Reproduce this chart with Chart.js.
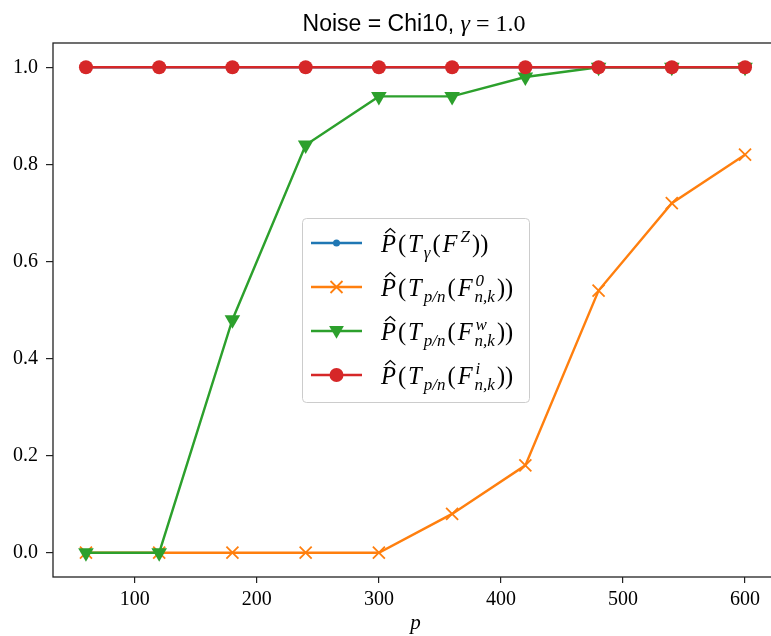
<!DOCTYPE html>
<html>
<head>
<meta charset="utf-8">
<script src="https://cdn.jsdelivr.net/npm/chart.js@4"></script>
<style>
  html, body { margin: 0; padding: 0; background: #fff; overflow: hidden; }
  #wrap { width: 790px; height: 636px; }
</style>
</head>
<body>
<div id="wrap"><canvas id="c" width="790" height="636"></canvas></div>
<script>
// data
const pValues = [60, 120, 180, 240, 300, 360, 420, 480, 540, 600]
const gammaZ = [1, 1, 1, 1, 1, 1, 1, 1, 1, 1]
const zeroK = [0, 0, 0, 0, 0, 0.08, 0.18, 0.54, 0.72, 0.82]
const wK = [0, 0, 0.48, 0.84, 0.94, 0.94, 0.98, 1, 1, 1]
const iK = [1, 1, 1, 1, 1, 1, 1, 1, 1, 1]
const xTicks = [100, 200, 300, 400, 500, 600]
const yTicks = [0, 0.2, 0.4, 0.6, 0.8, 1.0]

const blue = '#1f77b4', orange = '#ff7f0e', green = '#2ca02c', red = '#d62728'
const serif = '"Liberation Serif", "DejaVu Serif", serif'

const pts = (ys) => ys.map((y, i) => ({ x: pValues[i], y }))

// legend labels, as small math token lists
const legendItems = [
  { color: blue, style: 'circle', r: 3.5, parts: [{ t: 'P', it: 1, hat: 1 }, { t: '(' }, { t: 'T', it: 1 }, { sub: 'γ' }, { t: '(' }, { t: 'F', it: 1 }, { sup: 'Z' }, { t: '))' }] },
  { color: orange, style: 'cross', r: 6, parts: [{ t: 'P', it: 1, hat: 1 }, { t: '(' }, { t: 'T', it: 1 }, { sub: 'p/n' }, { t: '(' }, { t: 'F', it: 1 }, { sup: '0', sub: 'n,k' }, { t: '))' }] },
  { color: green, style: 'tri', r: 8.5, parts: [{ t: 'P', it: 1, hat: 1 }, { t: '(' }, { t: 'T', it: 1 }, { sub: 'p/n' }, { t: '(' }, { t: 'F', it: 1 }, { sup: 'w', sub: 'n,k' }, { t: '))' }] },
  { color: red, style: 'circle', r: 7, parts: [{ t: 'P', it: 1, hat: 1 }, { t: '(' }, { t: 'T', it: 1 }, { sub: 'p/n' }, { t: '(' }, { t: 'F', it: 1 }, { sup: 'i', sub: 'n,k' }, { t: '))' }] }
]

function font(size, it) {
  return (it ? 'italic ' : '') + size + 'px ' + serif
}

function drawMath(ctx, x, y, parts) {
  const big = 24.5, small = 17
  for (const p of parts) {
    if (p.t) {
      ctx.font = font(big, p.it)
      ctx.fillText(p.t, x, y)
      const w = ctx.measureText(p.t).width
      if (p.hat) {
        ctx.save()
        ctx.lineWidth = 1.3
        ctx.beginPath()
        const cx = x + w * 0.62
        ctx.moveTo(cx - 5, y - 18.5)
        ctx.lineTo(cx, y - 23)
        ctx.lineTo(cx + 5, y - 18.5)
        ctx.stroke()
        ctx.restore()
      }
      x += w + 2
    } else {
      ctx.font = font(small, true)
      let w = 0
      if (p.sup) {
        ctx.fillText(p.sup, x + 1, y - 10)
        w = Math.max(w, ctx.measureText(p.sup).width + 1)
      }
      if (p.sub) {
        ctx.fillText(p.sub, x, y + 6)
        w = Math.max(w, ctx.measureText(p.sub).width)
      }
      x += w + 2
    }
  }
}

function drawMarker(ctx, style, x, y, r, color) {
  ctx.save()
  ctx.fillStyle = color
  ctx.strokeStyle = color
  if (style === 'circle') {
    ctx.beginPath()
    ctx.arc(x, y, r, 0, Math.PI * 2)
    ctx.fill()
  } else if (style === 'cross') {
    ctx.lineWidth = 1.8
    ctx.beginPath()
    ctx.moveTo(x - r, y - r); ctx.lineTo(x + r, y + r)
    ctx.moveTo(x - r, y + r); ctx.lineTo(x + r, y - r)
    ctx.stroke()
  } else if (style === 'tri') {
    ctx.beginPath()
    ctx.moveTo(x - r * 0.87, y - r * 0.6)
    ctx.lineTo(x + r * 0.87, y - r * 0.6)
    ctx.lineTo(x, y + r * 0.9)
    ctx.closePath()
    ctx.fill()
  }
  ctx.restore()
}

const framePlugin = {
  id: 'frame',
  afterDatasetsDraw(chart) {
    const { ctx, chartArea: a } = chart
    ctx.save()
    ctx.strokeStyle = '#222'
    ctx.lineWidth = 1.3
    ctx.strokeRect(a.left, a.top, a.right - a.left, a.bottom - a.top)
    ctx.restore()
  },
  afterDraw(chart) {
    const ctx = chart.ctx
    // title
    ctx.save()
    ctx.fillStyle = '#000'
    ctx.textBaseline = 'alphabetic'
    const sans = '23px "Liberation Sans", Arial, sans-serif'
    const s1 = 'Noise = Chi10, '
    const s2 = 'γ'
    const s3 = ' = 1.0'
    ctx.font = sans
    const w1 = ctx.measureText(s1).width
    ctx.font = font(24, true)
    const w2 = ctx.measureText(s2).width
    ctx.font = font(24, false)
    const w3 = ctx.measureText(s3).width
    let x = 414 - (w1 + w2 + w3) / 2
    const ty = 31
    ctx.font = sans
    ctx.fillText(s1, x, ty); x += w1
    ctx.font = font(24, true)
    ctx.fillText(s2, x, ty); x += w2
    ctx.font = font(24, false)
    ctx.fillText(s3, x, ty)

    // legend box
    const bx = 302, by = 218, bw = 227, bh = 184
    ctx.beginPath()
    ctx.roundRect(bx + 0.5, by + 0.5, bw, bh, 4)
    ctx.fillStyle = 'rgba(255,255,255,0.8)'
    ctx.fill()
    ctx.strokeStyle = '#cccccc'
    ctx.lineWidth = 1
    ctx.stroke()

    legendItems.forEach((item, i) => {
      const cy = 243 + i * 44
      ctx.strokeStyle = item.color
      ctx.lineWidth = 2.4
      ctx.beginPath()
      ctx.moveTo(311, cy); ctx.lineTo(362, cy)
      ctx.stroke()
      drawMarker(ctx, item.style, 336.5, cy, item.r, item.color)
      ctx.fillStyle = '#000'
      ctx.strokeStyle = '#000'
      drawMath(ctx, 381, cy + 8.5, item.parts)
    })
    ctx.restore()
  }
}

new Chart(document.getElementById('c'), {
  type: 'line',
  data: {
    datasets: [
      { label: 'gammaZ', data: pts(gammaZ), borderColor: blue, backgroundColor: blue, pointStyle: 'circle', pointRadius: 3.5, pointBorderWidth: 0, order: 3 },
      { label: 'zeroK', data: pts(zeroK), borderColor: orange, backgroundColor: orange, pointStyle: 'crossRot', pointRadius: 8.5, pointBorderWidth: 1.8, order: 2 },
      { label: 'wK', data: pts(wK), borderColor: green, backgroundColor: green, pointStyle: 'triangle', rotation: 180, pointRadius: 9, pointBorderWidth: 0, order: 1 },
      { label: 'iK', data: pts(iK), borderColor: red, backgroundColor: red, pointStyle: 'circle', pointRadius: 7, pointBorderWidth: 0, order: 0 }
    ]
  },
  options: {
    responsive: false,
    animation: false,
    events: [],
    elements: { line: { borderWidth: 2.4, tension: 0 } },
    layout: { padding: { top: 43, right: 12, left: 0, bottom: 0 } },
    plugins: { legend: { display: false }, title: { display: false }, tooltip: { enabled: false } },
    scales: {
      x: {
        type: 'linear',
        min: 33,
        max: 627,
        afterBuildTicks: (s) => { s.ticks = xTicks.map((v) => ({ value: v })) },
        afterFit: (s) => { s.height = 59 },
        grid: { drawOnChartArea: false, drawTicks: true, tickLength: 6, color: '#222', lineWidth: 1.2 },
        border: { display: false },
        ticks: { color: '#000', font: { family: serif, size: 20 }, padding: 5, maxRotation: 0, autoSkip: false, callback: (v) => String(v) },
        title: { display: true, text: 'p', color: '#000', font: { family: serif, size: 21, style: 'italic' }, padding: { top: 0, bottom: 0 } }
      },
      y: {
        min: -0.05,
        max: 1.05,
        afterBuildTicks: (s) => { s.ticks = yTicks.map((v) => ({ value: v })) },
        afterFit: (s) => { s.width = 53 },
        grid: { drawOnChartArea: false, drawTicks: true, tickLength: 7, color: '#222', lineWidth: 1.2 },
        border: { display: false },
        ticks: { color: '#000', font: { family: serif, size: 20 }, padding: 8, callback: (v) => v.toFixed(1) }
      }
    }
  },
  plugins: [framePlugin]
})
</script>
</body>
</html>
